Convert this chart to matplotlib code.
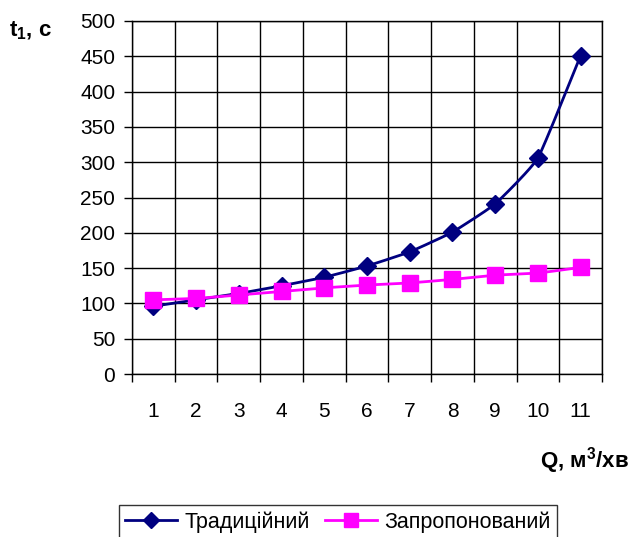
import numpy as np
import matplotlib
matplotlib.use("Agg")
import matplotlib.pyplot as plt

# flow rate categories and fill time for both schemes
q_labels = ["1", "2", "3", "4", "5", "6", "7", "8", "9", "10", "11"]
t_traditional = [96, 105, 114, 125, 137, 153, 173, 201, 241, 306, 451]
t_proposed = [105, 107, 112, 117, 122, 126, 129, 134, 140, 143, 151]

NAVY = "#000080"
PINK = "#ff00ff"

plt.rcParams["font.family"] = ["Liberation Sans", "DejaVu Sans"]
plt.rcParams["mathtext.fontset"] = "custom"
plt.rcParams["mathtext.rm"] = "Liberation Sans"
plt.rcParams["mathtext.bf"] = "Liberation Sans:bold"


def smooth(x, y, k=0.2, n=20):
    # cardinal spline through the points (k scales the tangents)
    x = np.asarray(x, float)
    y = np.asarray(y, float)
    xs, ys = [], []
    t = np.linspace(0, 1, n, endpoint=False)
    h00 = 2 * t ** 3 - 3 * t ** 2 + 1
    h10 = t ** 3 - 2 * t ** 2 + t
    h01 = -2 * t ** 3 + 3 * t ** 2
    h11 = t ** 3 - t ** 2
    for p, out in ((x, xs), (y, ys)):
        m = np.gradient(p) * 2 * k
        for i in range(len(p) - 1):
            out.extend(h00 * p[i] + h10 * m[i] + h01 * p[i + 1] + h11 * m[i + 1])
        out.append(p[-1])
    return np.array(xs), np.array(ys)


fig = plt.figure(figsize=(6.34, 5.37), dpi=100)
ax = fig.add_axes([132 / 634, 1 - 374 / 537, 470 / 634, 353 / 537])

x = np.arange(1, len(q_labels) + 1)
sx, sy = smooth(x, t_traditional)
ax.plot(sx, sy, color=NAVY, lw=2, zorder=3)
ax.plot(x, t_traditional, ls="none", marker="D", ms=9.5, color=NAVY, zorder=4)
px_, py_ = smooth(x, t_proposed)
ax.plot(px_, py_, color=PINK, lw=2, zorder=5)
ax.plot(x, t_proposed, ls="none", marker="s", ms=11, color=PINK, zorder=6)

ax.set_xlim(0.5, len(q_labels) + 0.5)
ax.set_ylim(0, 500)
ax.set_yticks(np.arange(0, 501, 50))
ax.set_xticks(x)
ax.set_xticklabels(q_labels)
ax.set_xticks(np.arange(0.5, len(q_labels) + 1, 1), minor=True)
ax.tick_params(axis="x", which="major", length=0, pad=20, labelsize=15)
ax.tick_params(axis="x", which="minor", length=6, width=1, direction="out")
ax.tick_params(axis="y", length=6, width=1, labelsize=15, pad=6)
ax.grid(True, which="minor", axis="x", color="black", lw=1)
ax.grid(True, which="major", axis="y", color="black", lw=1)
for s in ax.spines.values():
    s.set_color("black")
    s.set_linewidth(1)

fig.text(9 / 634, 1 - 31 / 537, r"t$_\mathbf{1}$, с", fontsize=16,
         fontweight="bold", va="center", ha="left")
fig.text(629 / 634, 1 - 461 / 537, r"Q, м$^\mathbf{3}$/хв", fontsize=16,
         fontweight="bold", va="center", ha="right")

handles = [
    plt.Line2D([], [], color=NAVY, lw=2, marker="D", ms=8.5),
    plt.Line2D([], [], color=PINK, lw=2, marker="s", ms=9.5),
]
leg = fig.legend(handles, ["Традиційний", "Запропонований"], ncol=2,
                 loc="upper left", bbox_to_anchor=(119 / 634, 1 - 505 / 537),
                 fontsize=15.5, frameon=True, fancybox=False, borderpad=0.3,
                 handlelength=2.4, handletextpad=0.35, columnspacing=0.7,
                 borderaxespad=0)
leg.get_frame().set_edgecolor("black")
leg.get_frame().set_linewidth(1)

fig.savefig("out.png", dpi=100)
